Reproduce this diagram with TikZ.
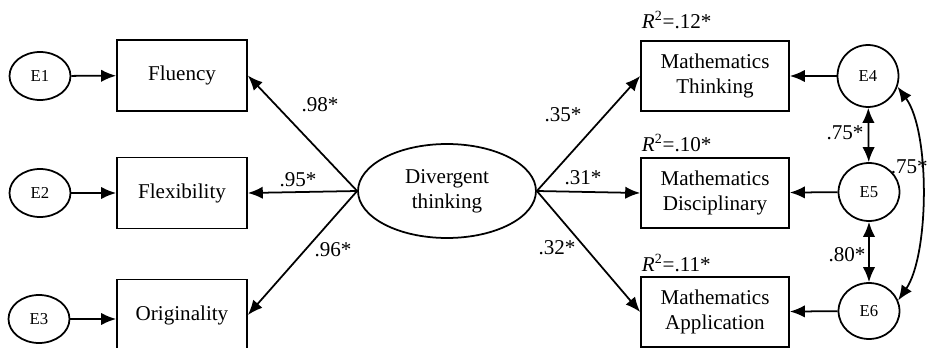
\documentclass[tikz,border=0pt]{standalone}
\usepackage{fontspec}
\setmainfont{Liberation Serif}
\usetikzlibrary{shapes, arrows.meta, positioning}

\begin{document}
\begin{tikzpicture}[x=0.02cm, y=-0.02cm, line width=1pt, font=\fontsize{12}{14.2}\selectfont,
    obs/.style={rectangle, draw, minimum height=1.42cm, align=center},
    err/.style={ellipse, draw, inner sep=0pt, font=\fontsize{9.5}{11}\selectfont},
    path/.style={-{Latex[length=8.5pt, width=7pt]}},
    cov/.style={{Latex[length=8.5pt, width=7pt]}-{Latex[length=8.5pt, width=7pt]}}]
    \useasboundingbox (0,0) rectangle (927,348);

    % Nodes
    \node (div) [ellipse, draw, minimum width=3.56cm, minimum height=1.88cm, align=center] at (447,191) {Divergent\\thinking};

    \node (flu) [obs, minimum width=2.6cm] at (182,75.5) {Fluency};
    \node (flex) [obs, minimum width=2.6cm] at (182,193) {Flexibility};
    \node (orig) [obs, minimum width=2.6cm] at (182,315) {Originality};

    \node (e1) [err, minimum width=1.22cm, minimum height=0.96cm] at (40,76) {E1};
    \node (e2) [err, minimum width=1.22cm, minimum height=0.96cm] at (40,193) {E2};
    \node (e3) [err, minimum width=1.22cm, minimum height=0.96cm] at (39,319) {E3};

    \node (think) [obs, minimum width=2.96cm, minimum height=1.4cm] at (715,76) {Mathematics\\Thinking};
    \node (disc) [obs, minimum width=2.96cm, minimum height=1.4cm] at (715,193) {Mathematics\\Disciplinary};
    \node (appl) [obs, minimum width=2.96cm, minimum height=1.4cm] at (715,312) {Mathematics\\Application};

    \node (e4) [err, minimum width=1.22cm, minimum height=1.24cm] at (868,76) {E4};
    \node (e5) [err, minimum width=1.22cm, minimum height=1.16cm] at (869,192) {E5};
    \node (e6) [err, minimum width=1.22cm, minimum height=1.12cm] at (869,311) {E6};

    % R squared
    \node (r1) [anchor=west, inner sep=0pt] at (641,20) {\textit{R}\textsuperscript{2}=.12*};
    \node (r2) [anchor=west, inner sep=0pt] at (641,143) {\textit{R}\textsuperscript{2}=.10*};
    \node (r3) [anchor=west, inner sep=0pt] at (641,263) {\textit{R}\textsuperscript{2}=.11*};

    % Paths
    \draw[path] (e1) -- (flu);
    \draw[path] (e2) -- (flex);
    \draw[path] (e3.east) -- (e3.east -| orig.west);

    \draw[path] (div.west) -- (flu.east);
    \draw[path] (div.west) -- (flex.east);
    \draw[path] (div.west) -- (orig.east);

    \draw[path] (div.east) -- (think.west);
    \draw[path] (div.east) -- (disc.west);
    \draw[path] (div.east) -- (appl.west);

    \draw[path] (e4) -- (think);
    \draw[path] (e5) -- (disc);
    \draw[path] (e6) -- (appl);

    \draw[cov] (e4) -- (e5);
    \draw[cov] (e5) -- (e6);
    \draw[cov] (e4.-20) .. controls +(33,45) and +(31,-45) .. (e6.20);

    % Loadings
    \node (l98) at (320,105) {.98*};
    \node (l95) at (298,180) {.95*};
    \node (l96) at (333,250) {.96*};
    \node (l35) at (563,115) {.35*};
    \node (l31) at (583,178) {.31*};
    \node (l32) at (557,248) {.32*};
    \node (l75a) at (845,133) {.75*};
    \node (l80) at (847,255) {.80*};
    \node (l75b) [anchor=west, inner sep=0pt] at (890,167) {.75*};

\end{tikzpicture}
\end{document}
